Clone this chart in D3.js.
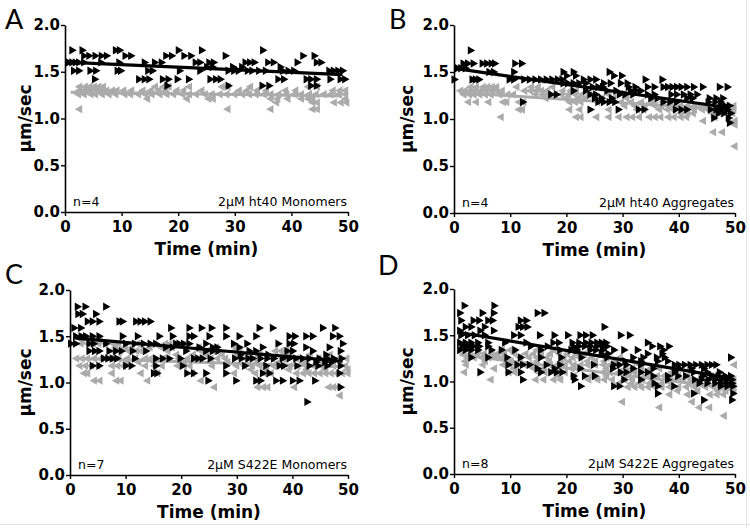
<!DOCTYPE html>
<html><head><meta charset="utf-8">
<script src="https://cdn.jsdelivr.net/npm/d3@7"></script>
<style>
html,body{margin:0;padding:0;background:#fff;}
svg{display:block;}
</style></head>
<body>
<svg id="chart" width="750" height="528"></svg>
<script>
// ---------------- DATA ----------------
const panelLetters = ['A', 'B', 'C', 'D'];
const panelTitles = ['2μM ht40 Monomers', '2μM ht40 Aggregates', '2μM S422E Monomers', '2μM S422E Aggregates'];
const panelN = ['n=4', 'n=4', 'n=7', 'n=8'];
const xTicks = [0, 10, 20, 30, 40, 50];
const yTicks = [0.0, 0.5, 1.0, 1.5, 2.0];
const xLabel = 'Time (min)';
const yLabel = 'μm/sec';
const fitT = [1, 49];
const fitBlack = [[1.60, 1.47], [1.53, 1.12], [1.48, 1.23], [1.53, 1.04]];
const fitGray = [[1.28, 1.24], [1.28, 1.10], [1.26, 1.17], [1.29, 0.93]];

// each series: [velocity, [times...]]
const blackA = [
  [1.73, [1.4, 3.2, 9.1, 9.8, 20.2, 24.3, 35.1]],
  [1.67, [3.5, 4.4, 5.5, 6.6, 7.5, 10.8, 11.8, 18, 19, 21.2, 22.4, 28.5, 42.2, 44.2]],
  [1.60, [0.8, 1.4, 2, 2.6, 3.5, 6.5, 9.7, 14.2, 16, 17.2, 23.2, 24, 25.6, 26.4, 32, 32.8, 33.6, 36, 37, 41.2, 44.6, 45.4]],
  [1.55, [25.2, 26.2, 29.8, 31.4, 38.2]],
  [1.51, [1.7, 2.6, 4.6, 5.6, 9.4, 10, 14.8, 15.6, 20.4, 24, 29, 30, 30.8, 32.4, 33.2, 34.4, 35.6, 38.6, 39.6, 40.6, 46.8, 47.6, 48.4, 49.2]],
  [1.42, [5.4, 13.2, 14.2, 15, 17.4, 18.4, 20, 22, 25.8, 26.8, 27.6, 37.8, 38.8, 42.8, 43.6, 44.6, 47, 48.8, 49.6]],
  [1.35, [18.2, 29, 35, 36.2, 43.6, 44.6]]
];
const grayA = [
  [1.34, [2.4, 3.4, 4.2, 5, 5.8, 6.6, 15.8, 17.2, 18.2, 21.8, 27.6, 28.6, 32.6, 42.8, 44.4]],
  [1.30, [2.4, 3.2, 4, 4.8, 5.6, 6.4, 7.2, 8.2, 9, 10.2, 11.6, 13.6, 15, 16.4, 17.6, 19.6, 20.8, 24, 30.6, 32, 33.8, 35.4, 38.8, 40.6, 47.2, 48.4, 49.4]],
  [1.26, [2.2, 3.2, 4.4, 5.2, 6.4, 7.6, 8.8, 10.4, 11.4, 12.8, 14, 15.2, 16.6, 17.8, 19, 20.6, 21.8, 23, 24.6, 25.8, 27.2, 28.4, 29.8, 31.2, 32.4, 33.6, 35, 36.2, 37.6, 39, 40.4, 41.6, 43, 44.2, 45.6, 46.8, 48.2, 49.4]],
  [1.21, [14.4, 21.4, 25.2, 26, 36.2, 37.4, 39.2, 41.6, 42.8, 43.6, 49.4]],
  [1.17, [37.2, 43.6, 44.4, 47.4, 48.6, 49.6]],
  [1.10, [2.4, 28.6, 36.2, 43.6, 44.4]]
];
const blackB = [
  [1.73, [3.1]],
  [1.59, [1.8, 2.6, 3.6, 5.2, 6, 6.8, 7.4, 11, 12.2]],
  [1.54, [0.8, 1.4, 2.2]],
  [1.50, [6.4, 7.2, 10.8, 19.6, 21.4, 27.8]],
  [1.46, [20.2, 21.8, 28.6, 30]],
  [1.42, [0.2, 3.4, 4, 4.6, 10, 10.8, 12.6, 13.6, 14.6, 15.6, 16.6, 17.6, 18.6, 19.4, 23.2, 24.4, 25.4, 34.2, 37.2]],
  [1.38, [19.6, 20.4, 21.4, 22.4, 23.6, 26.8, 28, 29.8, 31]],
  [1.34, [24.8, 25.8, 26.6, 31.2, 32.4, 34.6, 35.8, 37.4, 38.2, 39, 39.8, 40.6, 41.6, 42.8, 44.4, 47.4, 48.8]],
  [1.30, [21.4, 23.6, 27.4, 29, 31.6, 32.6, 33.4]],
  [1.26, [17.4, 18.4, 24.4, 25.4, 29.6, 30.6, 32, 34.6, 35.8, 38.8, 39.8, 41, 42.2, 43.4]],
  [1.22, [25.2, 26.4, 28.2, 35.2, 36.4, 41.6, 42.6, 45.6, 46.8, 48]],
  [1.18, [12.4, 25.8, 26.8, 27.8, 28.8, 37.4, 38.6, 39.8, 45.4, 46.6, 47.6]],
  [1.14, [47.6, 48.4, 49.2]],
  [1.10, [24.4, 29.4, 33, 34, 39.6, 40.6, 41.6, 45.8, 46.8, 47.8, 48.8]],
  [1.06, [47.2, 48.2, 49.4]],
  [1.01, [46.4, 49]],
  [0.96, [49.2]]
];
const grayB = [
  [1.34, [2.8, 3.8, 5, 5.8, 6.6, 7.4, 11, 13.6, 14.8, 17.4]],
  [1.30, [1, 1.8, 2.8, 3.6, 4.6, 5.6, 6.6, 7.4, 8.4, 12.4, 13.4, 14.4, 15.4, 16.4, 19.2, 20.6, 21.6]],
  [1.26, [1.6, 2.6, 3.4, 4.4, 5.4, 6.4, 8, 9.4, 10.4, 14.4, 15.6, 16.6, 17.8, 19, 20.2, 21.4, 22.6, 24, 27.4]],
  [1.22, [16.2, 19.8, 22, 23.2, 25, 26.2, 28.2, 30.6]],
  [1.18, [2.4, 3.8, 6, 8.6, 9.2, 11.4, 12.2, 20.4, 21.4, 22.4, 25.4, 29.6, 31.4, 33.2, 35.2, 37, 38.4]],
  [1.14, [30.2, 32, 33.8, 35.6, 36.8, 38, 39.2, 40.2, 41.4, 42.6, 43.8, 45, 46, 47.2, 48.4, 49.6]],
  [1.10, [11.4, 12, 20.4, 22.2, 27.4, 32.4, 33.6, 36.4, 37.8, 38.8, 40.2, 41, 42.6, 44, 45, 46.2, 49.6]],
  [1.06, [40.2, 41.4, 42.4, 45.8, 47, 48.2, 49.4]],
  [1.02, [8.2, 21.6, 22.4, 25.2, 27.4, 29.2, 30.6, 31.6, 32.8, 34.6, 35.6, 36.6, 38, 39, 40.2, 41.2, 46.2]],
  [0.98, [44.2, 49.8]],
  [0.94, [49.8]],
  [0.86, [46, 47.6]],
  [0.71, [49.8]]
];
const blackC = [
  [1.82, [1.5, 2.9, 6.6]],
  [1.74, [1.6, 2.4, 4.8]],
  [1.66, [3.3, 4.2, 5.4, 9, 9.6, 12, 12.8, 13.6, 14.6]],
  [1.59, [0.9, 2.1, 18.3, 21.6, 23.8, 25.6, 28.2, 34.2, 36.6, 45.6, 47.8]],
  [1.50, [1.2, 2.2, 3, 4.2, 5.4, 9.6, 12.3, 16.2, 18.6, 21.6, 22.4, 25.2, 28.2, 30.6, 33.6, 39.6, 40.6, 42.6, 43.8, 47.4, 48.6]],
  [1.42, [0.3, 1.2, 3.6, 4.4, 6.6, 10.2, 11.8, 13.4, 14.6, 15.6, 19.2, 19.8, 20.6, 21.6, 24.6, 29.6, 32, 37.6, 39.6, 40.4, 49.2]],
  [1.38, [17.4, 18.6, 23.4, 25.8, 26.6, 30.6, 34.8, 42.6, 46.8]],
  [1.34, [3.6, 4.6, 5.4, 7.2, 8.4, 9.4, 11.4, 13.8, 21, 24.6, 25.8, 26.8, 32.4, 33.6, 39.2, 40.2, 43.8, 48.8]],
  [1.30, [30.8, 35.8, 46.2]],
  [1.26, [6.2, 7, 7.8, 8.6, 11.8, 15.6, 16.8, 18, 20, 22.4, 23.2, 24, 25.4, 29.8, 31, 32.2, 33, 34.4, 35.6, 36.8, 38.4, 39.6, 40.8, 42, 43.2, 45, 46.4, 47.6, 49]],
  [1.22, [44.4, 46, 47.2]],
  [1.18, [4.2, 5.4, 10.2, 11.2, 15.6, 20.4, 28.2, 31.6, 35.4, 37.8, 38.6, 41, 43.2, 44.8, 46.4, 48.8]],
  [1.10, [15.2, 15.8, 21.2, 22.4, 24.6, 28.2, 34.8, 36, 48.6]],
  [1.02, [25, 30, 33.6, 34.4, 37.2, 38.4, 40.2, 41.4, 44.2]],
  [0.95, [48.8]],
  [0.79, [42.8]]
];
const grayC = [
  [1.46, [2, 3.2, 4.4, 5.2]],
  [1.42, [1.8, 3, 4, 5, 6.2, 7.6, 8.6, 12, 17, 17.8, 20.6]],
  [1.38, [8, 9.8, 11, 14.2, 16.2, 18.2, 23, 26.2, 29.6]],
  [1.34, [7.6, 8.8, 10.4, 11.8, 12.6, 17.4, 23.4, 24.4, 25.6, 29.4, 30.4, 36.8, 37.8, 38.8]],
  [1.30, [19, 22, 24.4, 27.2, 30, 32, 34, 39.4, 43, 46.6]],
  [1.26, [1, 2, 3, 4.2, 5.4, 7.2, 8.6, 10.2, 11.6, 13.4, 14.4, 16.6, 19.4, 21, 23.2, 25.2, 26.4, 27.8, 31.4, 33.2, 36.2, 38.2, 40.6, 42.4, 44.6, 48.2, 49.6]],
  [1.22, [10, 12.2, 15, 20.4, 28.2, 33.6, 37.4, 41.8, 45.2, 48.4]],
  [1.18, [1.6, 2.6, 3.6, 4.8, 7.4, 8.4, 9.4, 13.4, 15, 16.4, 19.2, 20.4, 21.4, 25.4, 29.8, 31.2, 32.6, 34, 36.4, 38, 39.4, 40.8, 42.2, 43.6, 45, 47.2, 49.4]],
  [1.14, [32.4, 35.2, 39.2, 42.4, 45.8, 49.8]],
  [1.10, [2.4, 3, 7.4, 12.6, 15.6, 21.8, 29.4, 33.2, 34.8, 36, 40.6, 41.8, 42.8, 43.8, 44.8, 45.8, 46.8, 47.8, 48.8, 49.8]],
  [1.02, [4.2, 5.2, 8.2, 9, 13.8, 23.4]],
  [0.95, [25.8, 33.6, 34.6, 35.4, 40.2, 46.4, 47.2, 48]],
  [0.86, [48.4]]
];
const blackD = [
  [1.82, [2, 7.3]],
  [1.74, [1.2, 5.2, 7.2, 15, 16.2]],
  [1.66, [1.4, 3.6, 4.6, 6.2, 7, 12, 13]],
  [1.59, [2.2, 3.2, 5.6, 11.6, 12.4, 13.2, 26.9]],
  [1.55, [1.2, 4.8, 7.2]],
  [1.50, [1.4, 2.6, 3.8, 5.6, 10.8, 12, 15.4, 18, 20.4, 22.6, 23.6, 24.8, 29.8, 31.4]],
  [1.42, [1.2, 2.2, 3.2, 4.4, 6.2, 9.2, 13, 17.8, 18.8, 21.2, 22.4, 23.6, 24.6, 25.6, 26.4, 27.2, 34.6]],
  [1.38, [1.6, 2.6, 3.6, 4.6, 6.2, 13.8, 16.8, 21.4, 22.4, 23.4, 24.4, 25.6, 26.6, 27.4, 35.4, 36.8, 38.4]],
  [1.34, [1.2, 2.2, 3.2, 4.4, 6.8, 8.6, 11, 15.6, 19, 21, 22, 24.4, 25.4, 26.6, 28.6, 30.4, 32.8, 37.4]],
  [1.30, [26.4, 27.6, 34.6, 37.2]],
  [1.26, [3.2, 6.2, 9.6, 12, 15.6, 19.2, 22.8, 27.4, 32, 33.8, 36.2, 37.6, 49.4]],
  [1.22, [30.6, 33.4, 36.4, 38.2]],
  [1.18, [9.8, 11.4, 12.4, 13.6, 16.6, 19, 25, 28.6, 29.6, 30.8, 33.4, 39.4, 40.2, 41.2, 42.2, 43.2, 44.2, 45.2, 46, 46.8]],
  [1.14, [15, 18, 22.6, 28.4, 32, 35.6, 40.2, 42.4, 44.6]],
  [1.10, [4.8, 9.8, 12, 15.6, 17.4, 18.4, 19.4, 29.8, 30.8, 33.4, 34.6, 39.4, 42.8, 45.2, 47.4]],
  [1.06, [21.4, 23.4, 25.2, 35.6, 38.2, 40, 41.4, 44.4, 46, 47.2, 48.4, 49.4]],
  [1.02, [12.4, 21.6, 30.4, 33.4, 38.2, 43, 44.2, 45.4, 46.6, 47.8, 48.8, 49.6]],
  [0.98, [35.8, 43.8, 45.2, 46.6, 47.6, 48.6, 49.6]],
  [0.95, [22.7, 28.6, 29.6, 36.4, 39.3, 47.6, 48.8, 49.8]],
  [0.87, [36.4, 42.8, 49.8]],
  [0.80, [44.6, 49.6]]
];
const grayD = [
  [1.34, [2.6, 4.2, 8.4, 9.8, 14.6, 17.6, 20.6]],
  [1.30, [1.6, 2.8, 4, 5.2, 6.6, 7.6, 8.8, 10.6, 12.6, 14, 15.4, 17, 18.6, 20, 21.6, 23]],
  [1.26, [2.2, 3.4, 4.8, 6, 7.2, 8.4, 11.6, 13.2, 14.6, 16.4, 19.4, 21, 22.2, 24.4, 27, 29.4]],
  [1.22, [1.8, 5.4, 10, 14.6, 16.8, 19, 20.4, 23.6, 25, 26.6, 28.4, 31.6]],
  [1.18, [2, 5, 8.6, 9.8, 11, 12.4, 13.2, 17, 18.2, 19.6, 21.2, 22.4, 23.6, 25, 26.4, 27.6, 29, 32.8, 49.7]],
  [1.14, [7, 10.6, 14, 15.8, 18.6, 20.8, 27, 30.4, 31.6, 33.2, 34.8, 36.4]],
  [1.10, [1.7, 9.6, 10.6, 14.8, 16, 19.6, 26.4, 27.6, 29.2, 30.6, 32, 33.2, 34.6, 38.6]],
  [1.06, [18.4, 21.2, 24.2, 27, 31, 34.2, 36, 37.2, 38.4, 39.8, 41.4, 44, 45.6]],
  [1.02, [6.4, 14.4, 15.8, 17.6, 18.8, 23.8, 25.4, 26.6, 28, 30.2, 31.6, 33.4, 35.2, 38, 39.4, 40.6, 42, 43.4, 45, 47, 48.4, 49.6]],
  [0.98, [29.2, 31.4, 32.8, 34.6, 36.8, 38.4, 41.6, 43.4, 48, 49.4]],
  [0.94, [30.8, 32, 33.2, 34.4, 35.6, 36.8, 38.2, 39.8, 41.2, 42.6, 44.6, 46, 47.2, 48.4, 49.6]],
  [0.90, [39.6, 43.2, 46.8, 48.2, 49.6]],
  [0.86, [38.2, 41.4, 45.4, 46.6, 47.8]],
  [0.78, [29.8, 42.2]],
  [0.72, [36.4, 43.5, 45.3]],
  [0.63, [47.9]]
];
const blackSeries = [blackA, blackB, blackC, blackD];
const graySeries = [grayA, grayB, grayC, grayD];

// ---------------- LAYOUT ----------------
const layout = [
  {x0: 65, x1: 348, yb: 212, yt: 25, lx: 5, ly: 29, yl: 25},
  {x0: 454, x1: 735, yb: 213, yt: 25, lx: 389, ly: 29, yl: 407},
  {x0: 70, x1: 348, yb: 475, yt: 290, lx: 5, ly: 284, yl: 25},
  {x0: 454, x1: 735, yb: 474, yt: 289, lx: 378, ly: 275, yl: 407}
];
const GRAY = '#ababab';
const svg = d3.select('#chart');
svg.append('rect').attr('width', 750).attr('height', 528).attr('fill', '#fff');
svg.append('line').attr('x1', 746.5).attr('x2', 746.5).attr('y1', 0).attr('y2', 528).attr('stroke', '#e4e4e4');
svg.append('line').attr('x1', 0).attr('x2', 750).attr('y1', 524.5).attr('y2', 524.5).attr('stroke', '#e4e4e4');

const flat = s => s.flatMap(([v, ts]) => ts.map(t => ({t, v})));
const rightTri = 'M-3.6,-4.2L3.8,0L-3.6,4.2Z';
const leftTri = 'M3.6,-4.2L-3.8,0L3.6,4.2Z';

layout.forEach((L, i) => {
  const x = d3.scaleLinear().domain([0, 50]).range([L.x0, L.x1]);
  const y = d3.scaleLinear().domain([0, 2]).range([L.yb, L.yt]);
  const g = svg.append('g');

  // points & fit lines
  const gp = g.append('g');
  gp.selectAll('path.g').data(flat(graySeries[i])).join('path')
    .attr('d', leftTri).attr('fill', GRAY)
    .attr('transform', d => `translate(${x(d.t)},${y(d.v)})`);
  gp.append('line').attr('x1', x(fitT[0])).attr('x2', x(fitT[1]))
    .attr('y1', y(fitGray[i][0])).attr('y2', y(fitGray[i][1]))
    .attr('stroke', GRAY).attr('stroke-width', 3);
  gp.selectAll('path.b').data(flat(blackSeries[i])).join('path')
    .attr('d', rightTri).attr('fill', '#000')
    .attr('transform', d => `translate(${x(d.t)},${y(d.v)})`);
  gp.append('line').attr('x1', x(fitT[0])).attr('x2', x(fitT[1]))
    .attr('y1', y(fitBlack[i][0])).attr('y2', y(fitBlack[i][1]))
    .attr('stroke', '#000').attr('stroke-width', 3.2);

  // axes
  const ax = g.append('g').attr('transform', `translate(0,${L.yb})`)
    .call(d3.axisBottom(x).tickValues(xTicks).tickSize(4).tickSizeOuter(0).tickPadding(5));
  const ay = g.append('g').attr('transform', `translate(${L.x0},0)`)
    .call(d3.axisLeft(y).tickValues(yTicks).tickFormat(d3.format('.1f')).tickSize(4).tickSizeOuter(0).tickPadding(1));
  [ax, ay].forEach(a => {
    a.select('.domain').attr('stroke', '#000').attr('stroke-width', 1.6);
    a.selectAll('.tick line').attr('stroke', '#000').attr('stroke-width', 1.4);
    a.selectAll('.tick text').attr('fill', '#000')
      .style('font-family', '"DejaVu Sans", sans-serif').style('font-weight', 'bold').style('font-size', '15px');
  });

  // axis labels
  g.append('text').attr('x', (L.x0 + L.x1) / 2).attr('y', L.yb + 43)
    .attr('text-anchor', 'middle').text(xLabel)
    .style('font-family', '"DejaVu Sans", sans-serif').style('font-weight', 'bold').style('font-size', '17px');
  g.append('text').attr('transform', `translate(${L.yl + 6},${(L.yb + L.yt) / 2}) rotate(-90)`)
    .attr('text-anchor', 'middle').text(yLabel)
    .style('font-family', '"DejaVu Sans", sans-serif').style('font-weight', 'bold').style('font-size', '17px');

  // annotations
  g.append('text').attr('x', L.x0 + 8).attr('y', L.yb - 6).text(panelN[i])
    .style('font-family', '"DejaVu Sans", sans-serif').style('font-size', '12.5px');
  g.append('text').attr('x', L.x1 - 1).attr('y', L.yb - 6).attr('text-anchor', 'end').text(panelTitles[i])
    .style('font-family', '"DejaVu Sans", sans-serif').style('font-size', '12.5px');

  // panel letter
  g.append('text').attr('x', L.lx).attr('y', L.ly).text(panelLetters[i])
    .style('font-family', 'Lato, sans-serif').style('font-weight', 400).style('font-size', '27px');
});
</script>
</body></html>
